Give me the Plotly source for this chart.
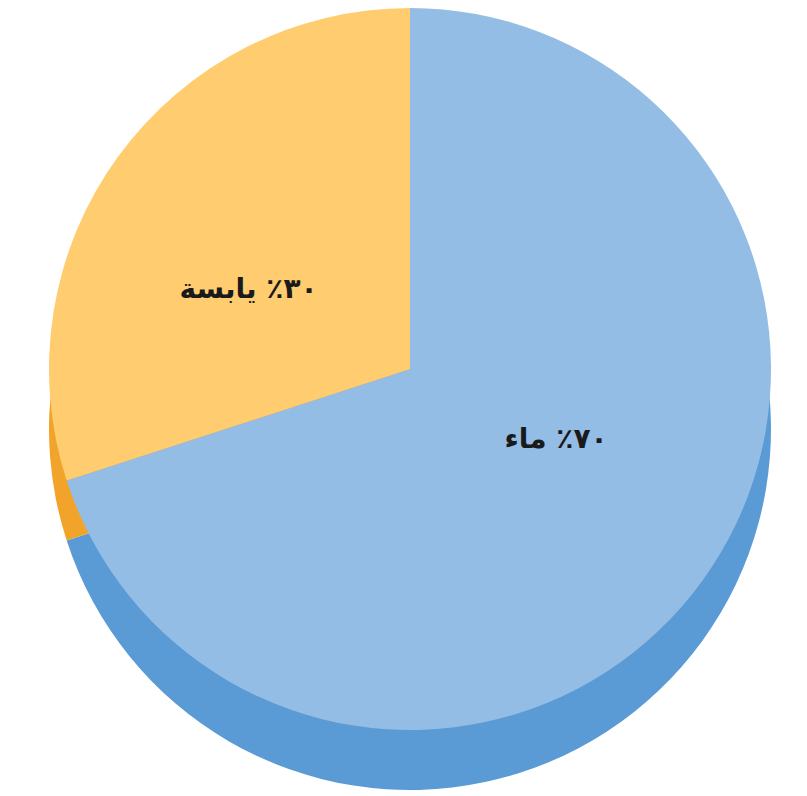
""" Pie chart: water vs land share of the Earth's surface """
import plotly.graph_objects as go

labels = ['ماء', 'يابسة']
values = [70, 30]
texts = ['٧٠٪ ماء<br> <br> ', ' <br> <br>٣٠٪ يابسة']

top_colors = ['#94BDE5', '#FFCC70']
side_colors = ['#5B9BD5', '#F2A42A']

fig = go.Figure()

# darker copy shifted down gives the pie its 3D edge
fig.add_trace(go.Pie(
    labels=labels,
    values=values,
    sort=False,
    direction='clockwise',
    marker=dict(colors=side_colors, line=dict(width=0)),
    textinfo='none',
    hoverinfo='skip',
    domain=dict(x=[11 / 807, 793 / 807], y=[1 - 782 / 796, 1 - 60 / 796]),
    showlegend=False,
))

fig.add_trace(go.Pie(
    labels=labels,
    values=values,
    text=texts,
    sort=False,
    direction='clockwise',
    marker=dict(colors=top_colors, line=dict(width=0)),
    textinfo='text',
    textposition='inside',
    insidetextorientation='horizontal',
    textfont=dict(family='DejaVu Sans', size=28, color='#1a1a1a', weight='bold'),
    domain=dict(x=[11 / 807, 793 / 807], y=[1 - 722 / 796, 1]),
    showlegend=False,
))

fig.update_layout(
    width=807,
    height=796,
    margin={"t": 0, "b": 0, "l": 0, "r": 0},
    paper_bgcolor='white',
    plot_bgcolor='white',
)

fig.write_html("out.html")
